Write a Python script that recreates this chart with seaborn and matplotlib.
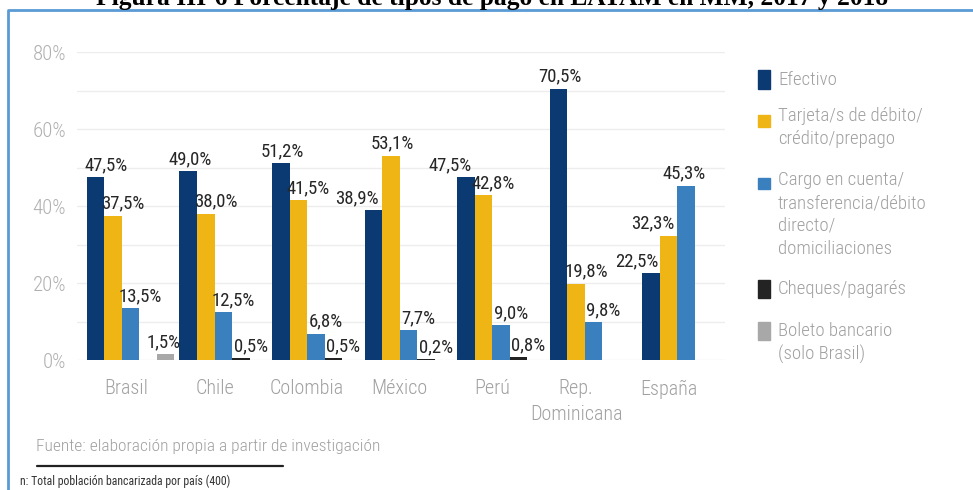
import matplotlib
matplotlib.use("Agg")
import matplotlib.pyplot as plt
from matplotlib.patches import Rectangle
from matplotlib import font_manager
import seaborn as sns
import pandas as pd
import numpy as np

# ---- data -------------------------------------------------------------
countries = ["Brasil", "Chile", "Colombia", "México", "Perú", "Rep.\nDominicana", "España"]
series = [
    "Efectivo",
    "Tarjeta/s de débito/\ncrédito/prepago",
    "Cargo en cuenta/\ntransferencia/débito\ndirecto/\ndomiciliaciones",
    "Cheques/pagarés",
    "Boleto bancario\n(solo Brasil)",
]
efectivo = [47.5, 49.0, 51.2, 38.9, 47.5, 70.5, 22.5]
tarjeta = [37.5, 38.0, 41.5, 53.1, 42.8, 19.8, 32.3]
cargo = [13.5, 12.5, 6.8, 7.7, 9.0, 9.8, 45.3]
cheques = [None, 0.5, 0.5, 0.2, 0.8, None, None]
boleto = [1.5, None, None, None, None, None, None]
y_ticks = [0, 20, 40, 60, 80]

colors = ["#0b3a72", "#eeb515", "#3a7fbe", "#232323", "#a8a8a8"]

rows = []
for s, vals in zip(series, [efectivo, tarjeta, cargo, cheques, boleto]):
    for c, v in zip(countries, vals):
        if v is not None:
            rows.append({"pais": c, "tipo": s, "valor": v})
df = pd.DataFrame(rows)

# ---- fonts: prefer the static Roboto Condensed files --------------------
fm = font_manager.fontManager
fm.ttflist = [f for f in fm.ttflist
              if not (f.name == "Roboto Condensed" and "[" in f.fname)]
names = {f.name for f in fm.ttflist}
cond = "Roboto Condensed" if "Roboto Condensed" in names else "DejaVu Sans"

sns.set_theme(style="white")
plt.rcParams["font.family"] = [cond, "DejaVu Sans"]

GREY_TXT = "#a0a0a0"
W, H = 973, 490
fig = plt.figure(figsize=(W / 100, H / 100), dpi=100)
ax = fig.add_axes([77 / W, 1 - 360 / H, (725 - 77) / W, (360 - 52) / H])

sns.barplot(data=df, x="pais", y="valor", hue="tipo", order=countries,
            hue_order=series, palette=colors, width=0.946, dodge=True,
            saturation=1, legend=False, ax=ax, errorbar=None, linewidth=0)

ax.set_ylim(0, 80)
ax.set_xlim(-0.58, 6.42)
ax.set_yticks(y_ticks)
ax.set_yticks(np.arange(10, 80, 20), minor=True)
ax.set_yticklabels([f"{t}%" for t in y_ticks], color="#b0b0b0", fontsize=15,
                   fontweight="light")
ax.grid(axis="y", which="both", color="#ededed", linewidth=1)
ax.set_axisbelow(True)
for sp in ax.spines.values():
    sp.set_visible(False)
ax.tick_params(axis="both", which="both", length=0)
ax.tick_params(axis="y", pad=8)
ax.set_xlabel("")
ax.set_ylabel("")

# value labels: horizontal nudges (pixels) for labels not left-aligned to the bar
nudge = {
    ("Brasil", 4): -12, ("Chile", 0): -8, ("Colombia", 0): -8,
    ("México", 0): -26, ("México", 1): -9, ("Perú", 0): -26,
    ("Rep.\nDominicana", 0): -9, ("España", 0): -24, ("España", 1): -26,
    ("España", 2): -12,
}
centers = {i: [] for i in range(len(countries))}
for k, cont in enumerate(ax.containers):
    for bar in cont:
        h = bar.get_height()
        if not np.isfinite(h):
            continue
        xc = bar.get_x() + bar.get_width() / 2
        ci = int(round(xc))
        centers[ci].append(xc)
        dx = 10 + nudge.get((countries[ci], k), 0)
        ax.annotate(f"{h:.1f}%".replace(".", ","), (xc, h),
                    xytext=(dx, 3), textcoords="offset pixels",
                    ha="center", va="bottom", fontsize=13.5, color="#262626")

ax.set_xticks([np.mean(centers[i]) for i in range(len(countries))])
ax.set_xticklabels(countries, color=GREY_TXT, fontsize=14.5, linespacing=1.45,
                   fontweight="light")
ax.tick_params(axis="x", pad=14)

# ---- legend -----------------------------------------------------------
sq_top = [70, 115, 178, 280, 322]
sq_h = [19, 12, 11, 18, 18]
first_line = [80, 116, 180, 289, 331]
for s, c, t, hgt, y0 in zip(series, colors, sq_top, sq_h, first_line):
    fig.patches.append(Rectangle((758 / W, 1 - (t + hgt) / H), 12 / W, hgt / H,
                                 transform=fig.transFigure, color=c))
    for j, line in enumerate(s.split("\n")):
        fig.text(778 / W, 1 - (y0 + 23 * j) / H, line, ha="left", va="center",
                 fontsize=13.5, color=GREY_TXT, fontweight="light")

# ---- source and note --------------------------------------------------
fig.text(36 / W, 1 - 447 / H, "Fuente: elaboración propia a partir de investigación",
         ha="left", va="center", fontsize=12.5, color=GREY_TXT, fontweight="light")
fig.add_artist(plt.Line2D([37 / W, 283 / W], [1 - 466 / H] * 2,
                          transform=fig.transFigure, color="#222222", linewidth=1.6))
fig.text(20 / W, 1 - 481 / H, "n: Total población bancarizada por país (400)",
         ha="left", va="center", fontsize=8.5, color="#333333")

# ---- frame and heading ------------------------------------------------
fig.add_artist(plt.Line2D([8 / W, 8 / W, 1], [0, 1 - 10 / H, 1 - 10 / H],
                          transform=fig.transFigure, color="#5b9bd5", linewidth=2))
fig.text(492 / W, 1 - 4.5 / H,
         "Figura III-6 Porcentaje de tipos de pago en LATAM en MM, 2017 y 2018",
         ha="center", va="baseline", fontsize=18.4, fontweight="bold",
         family=["Liberation Serif", "DejaVu Serif"], color="#000000")

fig.savefig("out.png", dpi=100, facecolor="white")
